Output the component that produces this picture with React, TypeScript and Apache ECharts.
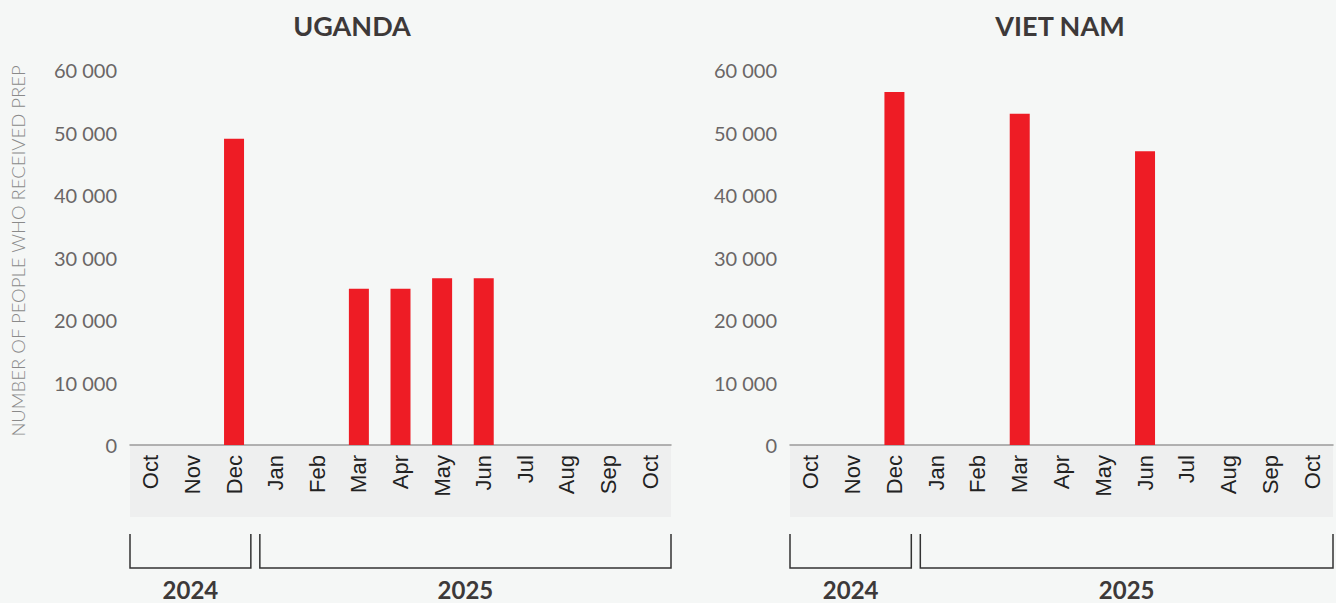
import React, { useEffect, useRef } from "react";
import * as echarts from "echarts";

const categories = ["2024-10", "2024-11", "2024-12", "2025-01", "2025-02", "2025-03", "2025-04", "2025-05", "2025-06", "2025-07", "2025-08", "2025-09", "2025-10"];
const monthLabels = ["Oct", "Nov", "Dec", "Jan", "Feb", "Mar", "Apr", "May", "Jun", "Jul", "Aug", "Sep", "Oct"];
const ugandaValues = [null, null, 49000, null, null, 25000, 25000, 26700, 26700, null, null, null, null];
const vietNamValues = [null, null, 56500, null, null, 53000, null, null, 47000, null, null, null, null];
const panelTitles = ["UGANDA", "VIET NAM"];
const yearGroups = [
  { year: "2024", count: 3 },
  { year: "2025", count: 10 },
];
const yTicks = { min: 0, max: 60000, interval: 10000 };
const yAxisTitle = "NUMBER OF PEOPLE WHO RECEIVED PREP";

const W = 1336;
const H = 603;
const AXIS_Y = 445;
const TOP = 70;
const BAND_BOTTOM = 517;
const panels = [
  { x0: 130, x1: 671, titleX: 352 },
  { x0: 790, x1: 1333, titleX: 1060 },
];

const BG = "#f5f7f6";
const BAND = "#eeefef";
const RED = "#ee1c25";
const DARK = "#3d3939";

function fmt(v: number) {
  return String(v).replace(/\B(?=(\d{3})+(?!\d))/g, " ");
}

export default function App() {
  const ref = useRef<HTMLDivElement>(null);
  useEffect(() => {
    if (!ref.current) return;
    const chart = echarts.init(ref.current, null, { renderer: "svg", width: W, height: H });
    const seriesData = [ugandaValues, vietNamValues];

    const graphic: any[] = [];
    panels.forEach((p, pi) => {
      graphic.push({
        type: "rect",
        z: -1,
        shape: { x: p.x0, y: AXIS_Y, width: p.x1 - p.x0, height: BAND_BOTTOM - AXIS_Y },
        style: { fill: BAND },
      });
      graphic.push({
        type: "text",
        x: p.titleX,
        y: 25,
        style: {
          text: panelTitles[pi],
          font: "bold 27px Lato",
          fill: DARK,
          textAlign: "center",
          textVerticalAlign: "middle",
        },
      });
      const catW = (p.x1 - p.x0) / categories.length;
      let start = 0;
      yearGroups.forEach((g, gi) => {
        const a = p.x0 + start * catW + (gi === 0 ? 0 : 5);
        const b = p.x0 + (start + g.count) * catW - (gi === yearGroups.length - 1 ? 0 : 4);
        graphic.push({
          type: "polyline",
          shape: { points: [[a, 534], [a, 568], [b, 568], [b, 534]] },
          style: { stroke: "#333", lineWidth: 1.5, fill: null },
        });
        graphic.push({
          type: "text",
          x: (a + b) / 2,
          y: 589,
          style: {
            text: g.year,
            font: "bold 24px Lato",
            fill: DARK,
            textAlign: "center",
            textVerticalAlign: "middle",
          },
        });
        start += g.count;
      });
    });
    graphic.push({
      type: "text",
      x: 17.5,
      y: 251,
      rotation: Math.PI / 2,
      style: {
        text: yAxisTitle,
        font: "300 18.5px Lato",
        fill: "#8a8a8a",
        textAlign: "center",
        textVerticalAlign: "middle",
      },
    });

    chart.setOption({
      animation: false,
      backgroundColor: BG,
      grid: panels.map((p) => ({
        left: p.x0,
        right: W - p.x1,
        top: TOP,
        bottom: H - AXIS_Y,
        containLabel: false,
      })),
      xAxis: panels.map((_, i) => ({
        type: "category",
        gridIndex: i,
        data: categories,
        axisTick: { show: false },
        axisLine: { lineStyle: { color: "#9a9a9a", width: 1.5 } },
        axisLabel: {
          rotate: 90,
          margin: 10,
          interval: 0,
          color: "#222",
          fontSize: 22,
          fontFamily: "Liberation Sans",
          formatter: (_v: string, idx: number) => monthLabels[idx],
        },
      })),
      yAxis: panels.map((_, i) => ({
        type: "value",
        gridIndex: i,
        min: yTicks.min,
        max: yTicks.max,
        interval: yTicks.interval,
        splitLine: { show: false },
        axisLine: { show: false },
        axisTick: { show: false },
        axisLabel: {
          margin: 13,
          color: "#6a6666",
          fontSize: 20,
          fontFamily: "Lato",
          formatter: (v: number) => fmt(v),
        },
      })),
      series: seriesData.map((d, i) => ({
        type: "bar",
        xAxisIndex: i,
        yAxisIndex: i,
        data: d,
        barWidth: 20,
        itemStyle: { color: RED },
      })),
      graphic,
    });
    return () => chart.dispose();
  }, []);
  return (
    <div
      ref={ref}
      style={{ position: "fixed", left: 0, top: 0, width: W, height: H }}
    />
  );
}
